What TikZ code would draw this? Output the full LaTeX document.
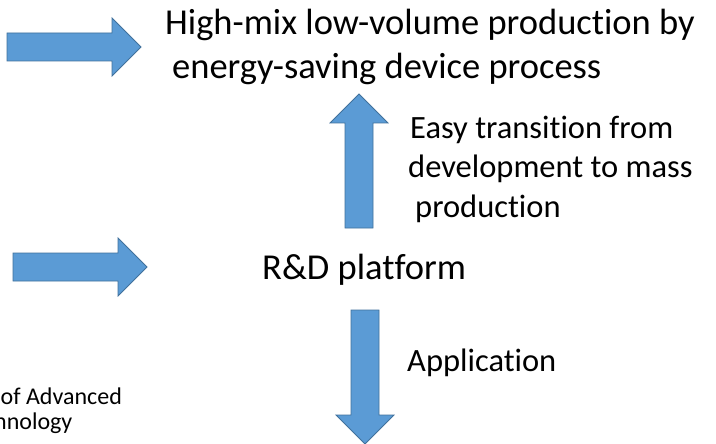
\documentclass[tikz,border=0pt]{standalone}
\usepackage{fontspec}
\setmainfont{Carlito}[Ligatures={NoCommon}]
\definecolor{arrowblue}{RGB}{91,155,213}
\definecolor{arrowedge}{RGB}{65,113,156}
\tikzstyle{blockarrow}=[fill=arrowblue,draw=arrowedge,line width=0.8pt,line join=miter]
\tikzstyle{txt}=[inner sep=0pt,anchor=base west,align=left]
\tikzstyle{bigtxt}=[txt,font=\fontsize{36.5}{44}\selectfont]
\tikzstyle{midtxt}=[txt,font=\fontsize{32.5}{39.5}\selectfont]
\tikzstyle{smalltxt}=[txt,font=\fontsize{24}{25}\selectfont]

\begin{document}
\begin{tikzpicture}[x=1pt,y=-1pt]
      \fill[white] (0,0) rectangle (716,444);
      \useasboundingbox (0,0) rectangle (716,444);
      % arrows
      \draw[blockarrow] (7,33) -- ++(105,0) -- ++(0,-15) -- ++(29,29) -- ++(-29,29) -- ++(0,-15) -- ++(-105,0) -- cycle;
      \draw[blockarrow] (13,253) -- ++(105,0) -- ++(0,-15) -- ++(29,29) -- ++(-29,29) -- ++(0,-15) -- ++(-105,0) -- cycle;
      \draw[blockarrow] (345,228) -- ++(0,-105) -- ++(-15,0) -- ++(29,-29) -- ++(29,29) -- ++(-15,0) -- ++(0,105) -- cycle;
      \draw[blockarrow] (351,310) -- ++(0,105) -- ++(-15,0) -- ++(29,29) -- ++(29,-29) -- ++(-15,0) -- ++(0,-105) -- cycle;
      % texts (base = last line)
      \node[bigtxt] (goal) at (165,79) {High-mix low-volume production by\\\hspace*{7pt}energy-saving device process};
      \node[midtxt] (easy) at (408,217) {\hspace*{2pt}Easy transition from\\development to mass\\\hspace*{7pt}production};
      \node[bigtxt] (rd) at (262,279) {R\&D platform};
      \node[midtxt] (app) at (407,371) {Application};
      \begin{scope}
        \clip (0,0) rectangle (716,444);
        \node[smalltxt] (aist) at (0.5,429) {of Advanced\\\hspace*{-6.5pt}nnology};
      \end{scope}
    \end{tikzpicture}
\end{document}
